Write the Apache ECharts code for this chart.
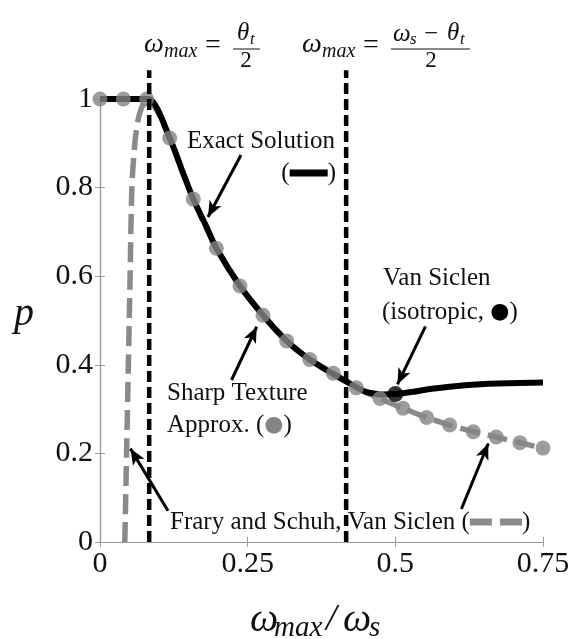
<!DOCTYPE html>
<html>
<head>
<meta charset="utf-8">
<script src="https://cdn.jsdelivr.net/npm/echarts@6/dist/echarts.min.js"></script>
<style>html,body{margin:0;padding:0;background:#fff;}#c{width:581px;height:639px;}</style>
</head>
<body>
<div id="c"></div>
<script>
// ---- data ----
const xTickLabels = ['0', '0.25', '0.5', '0.75'];
const yTickLabels = ['0', '0.2', '0.4', '0.6', '0.8', '1'];

// Sharp Texture Approx. (gray dots)
const sharpX = [0, 0.0395, 0.079, 0.118, 0.158, 0.197, 0.237, 0.276, 0.316, 0.355, 0.395, 0.434, 0.474, 0.513, 0.553, 0.592, 0.632, 0.671, 0.711, 0.75];
const sharpY = [1, 1, 1, 0.912, 0.774, 0.663, 0.578, 0.512, 0.454, 0.412, 0.381, 0.348, 0.324, 0.302, 0.281, 0.264, 0.249, 0.237, 0.224, 0.212];

// Exact Solution (black line)
const exactX = [0, 0.083, 0.118, 0.14, 0.158, 0.18, 0.197, 0.237, 0.276, 0.316, 0.355, 0.395, 0.416, 0.45, 0.478, 0.5, 0.53, 0.562, 0.618, 0.674, 0.75];
const exactY = [1, 1, 0.912, 0.835, 0.774, 0.712, 0.663, 0.578, 0.512, 0.454, 0.412, 0.379, 0.363, 0.339, 0.333, 0.334, 0.339, 0.346, 0.354, 0.358, 0.36];

// Frary and Schuh, Van Siclen (gray dashed)
const vsX = [0.042, 0.045, 0.048, 0.051, 0.054, 0.059, 0.064, 0.069, 0.075, 0.079, 0.118, 0.158, 0.197, 0.237, 0.276, 0.316, 0.355, 0.395, 0.434, 0.474, 0.513, 0.553, 0.592, 0.632, 0.671, 0.711, 0.75];
const vsY = [0, 0.2, 0.4, 0.6, 0.8, 0.9, 0.95, 0.975, 0.993, 1, 0.912, 0.774, 0.663, 0.578, 0.512, 0.454, 0.412, 0.381, 0.348, 0.324, 0.302, 0.281, 0.264, 0.249, 0.237, 0.224, 0.212];

// Van Siclen isotropic (black dot)
const isoX = [0.5];
const isoY = [0.334];

// vertical reference lines: theta_t/2 and (omega_s - theta_t)/2
const refX = [0.0833, 0.4167];
const refYTop = 1.065;

// annotation arrows [x1, y1, x2, y2] (tail -> head), data units
const arrows = [
  [0.2387, 0.8736, 0.1828, 0.7336],
  [0.2227, 0.3657, 0.2653, 0.4859],
  [0.551, 0.4867, 0.5036, 0.356],
  [0.1151, 0.0707, 0.0515, 0.2108],
  [0.6118, 0.0745, 0.6574, 0.2223]
];

const zip = (xs, ys) => xs.map((x, i) => [x, ys[i]]);

const serif = '"Liberation Serif", "DejaVu Serif", serif';
const axisGray = '#9a9a9a';
const dotGray = '#858585';

const chart = echarts.init(document.getElementById('c'));

const textEl = (txt, x, y, size, opts) => ({
  type: 'text',
  style: Object.assign({
    text: txt, x: x, y: y, fontFamily: serif, fontSize: size, fill: '#111',
    textAlign: 'left', textVerticalAlign: 'middle'
  }, opts || {})
});

const axisCommon = {
  min: 0,
  axisLine: { show: true, lineStyle: { color: axisGray, width: 1.2 } },
  axisTick: { show: true, inside: true, length: 5, lineStyle: { color: axisGray } },
  splitLine: { show: false }
};

const option = {
  animation: false,
  backgroundColor: '#fff',
  grid: { left: 100, top: 99, width: 443, height: 443 },
  xAxis: [
    Object.assign({}, axisCommon, {
      type: 'value', max: 0.75, interval: 0.25, position: 'bottom',
      axisLabel: {
        margin: 7, fontFamily: serif, fontSize: 30, color: '#111',
        formatter: v => xTickLabels[Math.round(v / 0.25)]
      }
    }),
    Object.assign({}, axisCommon, {
      type: 'value', max: 0.75, interval: 0.25, position: 'top',
      axisLabel: { show: false }
    })
  ],
  yAxis: [
    Object.assign({}, axisCommon, {
      type: 'value', max: 1, interval: 0.2, position: 'left',
      axisLabel: {
        margin: 7, fontFamily: serif, fontSize: 30, color: '#111',
        formatter: v => yTickLabels[Math.round(v / 0.2)]
      }
    }),
    Object.assign({}, axisCommon, {
      type: 'value', max: 1, interval: 0.2, position: 'right',
      axisLabel: { show: false }
    })
  ],
  series: [
    {
      name: 'Frary and Schuh, Van Siclen', type: 'line', data: zip(vsX, vsY),
      symbol: 'none', smooth: 0.3, z: 2,
      lineStyle: { color: '#8a8a8a', width: 5.5, type: [20, 8] }
    },
    {
      name: 'Exact Solution', type: 'line', data: zip(exactX, exactY),
      symbol: 'none', smooth: 0.2, z: 3,
      lineStyle: { color: '#000', width: 6 }
    },
    {
      name: 'Sharp Texture Approx.', type: 'scatter', data: zip(sharpX, sharpY),
      symbol: 'circle', symbolSize: 15, z: 4, clip: false,
      itemStyle: { color: dotGray }
    },
    {
      name: 'Van Siclen (isotropic)', type: 'scatter', data: zip(isoX, isoY),
      symbol: 'circle', symbolSize: 16, z: 5,
      itemStyle: { color: '#000' }
    }
  ].concat(refX.map(x => ({
    type: 'line', data: [[x, 0], [x, refYTop]], clip: false, symbol: 'none', z: 6,
    lineStyle: { color: '#000', width: 4.5, type: [11, 5] }
  }))).concat([{
    type: 'line', data: [], z: 7,
    markLine: {
      silent: true, animation: false,
      symbol: ['none', 'arrow'], symbolSize: [10, 16],
      label: { show: false },
      lineStyle: { color: '#000', width: 3, type: 'solid' },
      emphasis: { disabled: true },
      data: arrows.map(a => [{ coord: [a[0], a[1]] }, { coord: [a[2], a[3]] }])
    }
  }]),
  graphic: [
    // axis titles
    textEl('p', 24, 314, 40, { fontStyle: 'italic', textAlign: 'center' }),
    textEl('ω', 250, 620, 40, { fontStyle: 'italic' }),
    textEl('max', 274, 628, 29, { fontStyle: 'italic' }),
    textEl('/', 326, 620, 38, { fontStyle: 'italic' }),
    textEl('ω', 343, 620, 40, { fontStyle: 'italic' }),
    textEl('s', 369, 628, 29, { fontStyle: 'italic' }),
    // top formula 1: ω_max = θ_t / 2
    textEl('ω', 144, 45, 28, { fontStyle: 'italic' }),
    textEl('max', 164, 52, 20, { fontStyle: 'italic' }),
    textEl('=', 205, 46, 28),
    textEl('θ', 237, 33, 25, { fontStyle: 'italic' }),
    textEl('t', 250, 40, 17, { fontStyle: 'italic' }),
    { type: 'line', shape: { x1: 233, y1: 49, x2: 260, y2: 49 }, style: { stroke: '#111', lineWidth: 1 } },
    textEl('2', 246, 61, 23, { textAlign: 'center' }),
    // top formula 2: ω_max = (ω_s − θ_t) / 2
    textEl('ω', 302, 45, 28, { fontStyle: 'italic' }),
    textEl('max', 322, 52, 20, { fontStyle: 'italic' }),
    textEl('=', 363, 46, 28),
    textEl('ω', 393, 34, 25, { fontStyle: 'italic' }),
    textEl('s', 410, 40, 17, { fontStyle: 'italic' }),
    textEl('−', 424, 34, 25),
    textEl('θ', 447, 33, 25, { fontStyle: 'italic' }),
    textEl('t', 460, 40, 17, { fontStyle: 'italic' }),
    { type: 'line', shape: { x1: 391, y1: 49, x2: 470, y2: 49 }, style: { stroke: '#111', lineWidth: 1 } },
    textEl('2', 431, 61, 23, { textAlign: 'center' }),
    // annotations
    textEl('Exact Solution', 187, 141, 25),
    {
      type: 'text',
      style: {
        text: '({b|})', x: 336, y: 173, textAlign: 'right', textVerticalAlign: 'middle',
        fontFamily: serif, fontSize: 25, fill: '#111',
        rich: { b: { backgroundColor: '#000', width: 38, height: 7 } }
      }
    },
    textEl('Sharp Texture', 167, 393, 25),
    {
      type: 'text',
      style: {
        text: 'Approx. ({d|●})', x: 167, y: 425, textAlign: 'left', textVerticalAlign: 'middle',
        fontFamily: serif, fontSize: 25, fill: '#111',
        rich: { d: { fontSize: 22, fill: dotGray, color: dotGray, fontFamily: '"DejaVu Sans", sans-serif' } }
      }
    },
    textEl('Van Siclen', 383, 278, 25),
    {
      type: 'text',
      style: {
        text: '(isotropic, {d|●})', x: 382, y: 312, textAlign: 'left', textVerticalAlign: 'middle',
        fontFamily: serif, fontSize: 25, fill: '#111',
        rich: { d: { fontSize: 22, fill: '#000', color: '#000', fontFamily: '"DejaVu Sans", sans-serif' } }
      }
    },
    {
      type: 'text',
      style: {
        text: 'Frary and Schuh, Van Siclen ({g|}{s|}{g|})', x: 170, y: 522, textAlign: 'left', textVerticalAlign: 'middle',
        fontFamily: serif, fontSize: 25, fill: '#111',
        rich: {
          g: { backgroundColor: '#8a8a8a', width: 22, height: 7 },
          s: { width: 8, height: 7 }
        }
      }
    }
  ]
};

chart.setOption(option);
</script>
</body>
</html>
